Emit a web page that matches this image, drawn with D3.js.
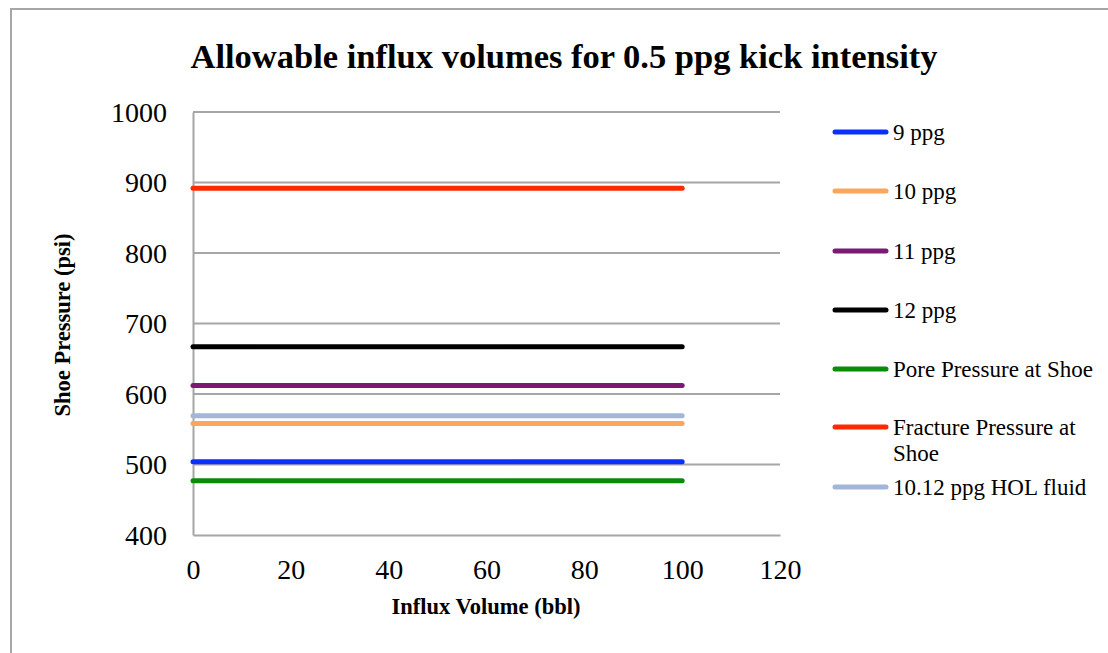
<!DOCTYPE html>
<html>
<head>
<meta charset="utf-8">
<script src="https://cdn.jsdelivr.net/npm/d3@7"></script>
<style>
  html, body { margin: 0; padding: 0; background: #fff; }
  svg { display: block; }
  text { font-family: "Liberation Serif", "Times New Roman", serif; fill: #000; }
</style>
</head>
<body>
<svg id="chart" width="1108" height="653"></svg>
<script>
// Influx volume (bbl) sampled for each curve
const influxVolume = [0, 100];

// Shoe pressure (psi) for each case
const series = [
  { name: "9 ppg",                    color: "#0a30ff", values: [504, 504] },
  { name: "10 ppg",                   color: "#fca65a", values: [558, 558] },
  { name: "11 ppg",                   color: "#7b1a73", values: [612, 612] },
  { name: "12 ppg",                   color: "#000000", values: [667, 667] },
  { name: "Pore Pressure at Shoe",    color: "#0a8c0a", values: [477, 477] },
  { name: "Fracture Pressure at Shoe", color: "#ff2a00", values: [892, 892] },
  { name: "10.12 ppg HOL fluid",      color: "#a2b6d8", values: [569, 569] }
];

const legendLines = [
  ["9 ppg"], ["10 ppg"], ["11 ppg"], ["12 ppg"],
  ["Pore Pressure at Shoe"], ["Fracture Pressure at", "Shoe"], ["10.12 ppg HOL fluid"]
];

const xTicks = [0, 20, 40, 60, 80, 100, 120];
const yTicks = [400, 500, 600, 700, 800, 900, 1000];

const svg = d3.select("#chart");

// outer frame
svg.append("rect")
  .attr("x", 11).attr("y", 9)
  .attr("width", 1120).attr("height", 700)
  .attr("fill", "none").attr("stroke", "#a6a6a6").attr("stroke-width", 2);

const plot = { left: 193, right: 780, top: 112, bottom: 535 };

const x = d3.scaleLinear().domain([0, 120]).range([plot.left, plot.right]);
const y = d3.scaleLinear().domain([400, 1000]).range([plot.bottom, plot.top]);

// horizontal gridlines
svg.append("g")
  .selectAll("line")
  .data(yTicks.slice(1))
  .join("line")
  .attr("x1", plot.left).attr("x2", plot.right)
  .attr("y1", d => y(d)).attr("y2", d => y(d))
  .attr("stroke", "#a6a6a6").attr("stroke-width", 2);

// y axis
const yAxis = svg.append("g")
  .attr("transform", `translate(${plot.left},0)`)
  .call(d3.axisLeft(y).tickValues(yTicks).tickSize(0).tickPadding(26).tickFormat(d3.format("d")));
yAxis.select(".domain").attr("stroke", "#a6a6a6").attr("stroke-width", 2);
yAxis.selectAll("text").style("font-size", "28px").attr("dy", "0.33em");

// x axis
const xAxis = svg.append("g")
  .attr("transform", `translate(0,${plot.bottom})`)
  .call(d3.axisBottom(x).tickValues(xTicks).tickSize(0).tickPadding(24).tickFormat(d3.format("d")));
xAxis.select(".domain").attr("stroke", "#a6a6a6").attr("stroke-width", 2);
xAxis.selectAll("text").style("font-size", "28px").attr("dy", "0.71em");

// data lines
const line = d3.line()
  .x((d, i) => x(influxVolume[i]))
  .y(d => y(d));

svg.append("g")
  .selectAll("path")
  .data(series)
  .join("path")
  .attr("d", d => line(d.values))
  .attr("fill", "none")
  .attr("stroke", d => d.color)
  .attr("stroke-width", 5)
  .attr("stroke-linecap", "round");

// title
svg.append("text")
  .attr("x", 564).attr("y", 68)
  .attr("text-anchor", "middle")
  .style("font-size", "34.5px").style("font-weight", "bold")
  .text("Allowable influx volumes for 0.5 ppg kick intensity");

// axis titles
svg.append("text")
  .attr("x", 486).attr("y", 614)
  .attr("text-anchor", "middle")
  .style("font-size", "22.5px").style("font-weight", "bold")
  .text("Influx Volume (bbl)");

svg.append("text")
  .attr("transform", "translate(70,325) rotate(-90)")
  .attr("text-anchor", "middle")
  .style("font-size", "22.5px").style("font-weight", "bold")
  .text("Shoe Pressure (psi)");

// legend
const legendY = [132, 191, 251, 310, 369, 427, 487];
const legend = svg.append("g")
  .selectAll("g")
  .data(series)
  .join("g")
  .attr("transform", (d, i) => `translate(0,${legendY[i]})`);

legend.append("line")
  .attr("x1", 835).attr("x2", 886)
  .attr("y1", 0).attr("y2", 0)
  .attr("stroke", d => d.color)
  .attr("stroke-width", 5)
  .attr("stroke-linecap", "round");

legend.append("text")
  .attr("x", 893)
  .attr("y", 0)
  .style("font-size", "23px")
  .selectAll("tspan")
  .data((d, i) => legendLines[i])
  .join("tspan")
  .attr("x", 893)
  .attr("dy", (d, j) => j === 0 ? "0.33em" : "1.15em")
  .text(d => d);
</script>
</body>
</html>
